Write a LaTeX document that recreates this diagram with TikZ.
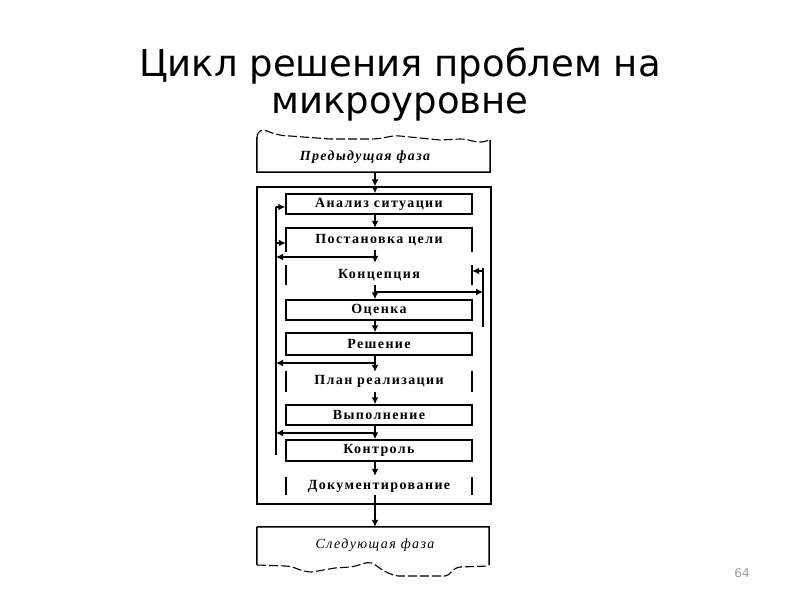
\documentclass[tikz,border=0pt]{standalone}
\usepackage{fontspec}
\setmainfont{DejaVu Sans}
\newfontfamily\boxfont[LetterSpace=10]{Liberation Serif}
\usetikzlibrary{arrows.meta,calc}
\begin{document}
\begin{tikzpicture}[x=1pt,y=-1pt,
  boxtxt/.style={font=\boxfont\bfseries\fontsize{14}{14}\selectfont, inner sep=0pt, minimum width=186pt, anchor=center},
  fullbox/.style={boxtxt, draw, line width=1.5pt},
  openbox/.style={boxtxt},
  arr/.style={line width=1.8pt, -{Latex[length=7pt,width=7pt]}},
  arrthick/.style={line width=2.8pt, -{Latex[length=7pt,width=7pt]}},
  edge/.style={line width=1.5pt},
  thin/.style={line width=1.2pt},
  torn/.style={line width=1.1pt, dash pattern=on 9pt off 3pt},
]
\useasboundingbox (0,0) rectangle (800,600);
% title
\node[font=\fontsize{37}{37}\selectfont, align=center, inner sep=0pt] (title) at (400,84) {Цикл решения проблем на\\микроуровне};
\node[font=\fontsize{12}{12}\selectfont, text=black!40] (pnum) at (742,573) {64};

% previous phase
\node[minimum width=233pt, minimum height=35pt, inner sep=0pt] (prev) at (373.5,154.5) {};
\node[font=\boxfont\bfseries\itshape\fontsize{14}{14}\selectfont] (prevtxt) at (365,157) {Предыдущая фаза};
\draw[edge] (257,137) -- (prev.south west) -- (prev.south east) -- (490,140);
\draw[torn] (257,137) .. controls (258,130) and (262,129) .. (267,131) .. controls (272,133) and (280,136) .. (290,136) -- (330,139) -- (370,139) .. controls (385,139) and (390,135) .. (400,136) -- (440,140) -- (460,139) .. controls (470,139) and (475,143) .. (482,142) -- (490,140);

% outer frame
\node[draw, thin, minimum width=234pt, minimum height=317pt, inner sep=0pt] (outer) at (374,345.5) {};

% boxes
\node[fullbox, minimum height=20pt] (anal) at (379,204) {Анализ ситуации};
\node[openbox, minimum height=24pt] (post) at (379,240) {Постановка цели};
\node[openbox, minimum height=20pt] (konc) at (379,275) {Концепция};
\node[fullbox, minimum height=20pt] (otsen) at (379,310) {Оценка};
\node[fullbox, minimum height=22pt] (resh) at (379,344) {Решение};
\node[openbox, minimum height=21pt] (plan) at (379,381.5) {План реализации};
\node[fullbox, minimum height=20pt] (vyp) at (379,415) {Выполнение};
\node[fullbox, minimum height=21pt] (kontr) at (379,450.5) {Контроль};
\node[openbox, minimum height=18pt] (doc) at (379,486) {Документирование};

\draw[edge] (post.south west) -- (post.north west) -- (post.north east) -- (post.south east);
\foreach \n in {konc,plan,doc}{
  \draw[edge] (\n.south west) -- (\n.north west);
  \draw[edge] (\n.south east) -- (\n.north east);
}

% next phase
\node[minimum width=232pt, minimum height=38pt, inner sep=0pt] (next) at (373,546) {};
\node[font=\boxfont\itshape\fontsize{14}{14}\selectfont] (nexttxt) at (375,545) {Следующая фаза};
\draw[edge] (next.north west) -- (257,565);
\draw[edge] (next.north west) -- (next.north east) -- (489,565);
\draw[torn] (257,565) -- (285,566) .. controls (295,566) and (300,572) .. (312,572) -- (335,568) -- (350,567) .. controls (360,566) and (365,561) .. (372,563) .. controls (378,566) and (385,574) .. (398,576) -- (445,576) .. controls (450,576) and (452,568) .. (460,567) -- (489,566);

% main flow
\coordinate (cx) at (375,0);
\draw[arr] (prev.south -| cx) -- (outer.north -| cx);
\draw[arr] (outer.north -| cx) -- (anal.north -| cx);
\draw[arr] (anal.south -| cx) -- (post.north -| cx);
\draw[arr] ($(post.south -| cx)+(0,-2)$) -- ($(konc.north -| cx)+(0,-2)$);
\draw[arr] (konc.south -| cx) -- (otsen.north -| cx);
\draw[arr] (otsen.south -| cx) -- (resh.north -| cx);
\draw[arr] (resh.south -| cx) -- ($(plan.north -| cx)+(0,1)$);
\draw[arr] (plan.south -| cx) -- (vyp.north -| cx);
\draw[arr] (vyp.south -| cx) -- (kontr.north -| cx);
\draw[arr] (kontr.south -| cx) -- ($(doc.north -| cx)+(0,-1)$);
\draw[arr] (doc.south -| cx) -- (next.north -| cx);

% left feedback
\coordinate (ltop) at (276,207);
\coordinate (lbot) at (276,455);
\draw[edge] (ltop) -- (lbot);
\coordinate (fa) at (276,207);
\coordinate (fb) at (276,243);
\draw[arr] (fa) -- (fa -| anal.west);
\draw[arr] (fb) -- (fb -| post.west);
\coordinate (r1) at (375,257);
\coordinate (r2) at (375,363);
\coordinate (r3) at (375,433);
\draw[arrthick] (r1) -- (r1 -| ltop);
\draw[arr] (r2) -- (r2 -| ltop);
\draw[arrthick] (r3) -- (r3 -| ltop);

% right feedback
\coordinate (rtop) at (483,268);
\coordinate (rbot) at (483,327);
\draw[thin] (rtop) -- (rbot);
\coordinate (q1) at (375,292);
\coordinate (q2) at (483,271);
\draw[arr] (q1) -- (q1 -| rtop);
\draw[arr] (q2) -- (q2 -| konc.east);
\end{tikzpicture}
\end{document}
